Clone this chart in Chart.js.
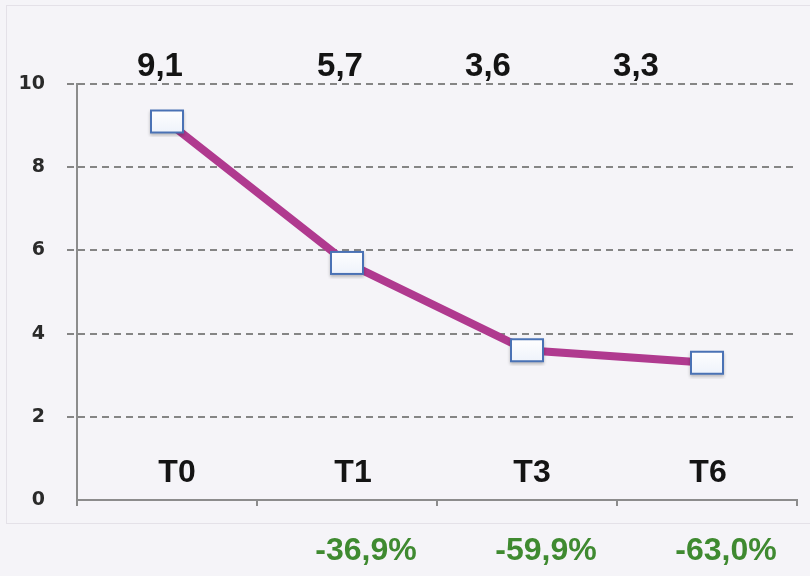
<!DOCTYPE html>
<html>
<head>
<meta charset="utf-8">
<script src="https://cdn.jsdelivr.net/npm/chart.js@4.4.1/dist/chart.umd.min.js"></script>
<style>
  body { margin: 0; background: #f5f4f8; }
  canvas { display: block; }
</style>
</head>
<body>
<canvas id="grafico" width="810" height="576"></canvas>
<script>
const categorias = ['T0', 'T1', 'T3', 'T6'];
const valores = [9.1, 5.7, 3.6, 3.3];
const rotulosValores = ['9,1', '5,7', '3,6', '3,3'];
const variacoes = ['', '-36,9%', '-59,9%', '-63,0%'];

// marcador retangular (branco com borda azul)
function criarMarcador() {
    const c = document.createElement('canvas');
    c.width = 40; c.height = 32;
    const g = c.getContext('2d');
    g.shadowColor = 'rgba(0,0,0,0.25)';
    g.shadowBlur = 3;
    g.shadowOffsetY = 2;
    g.fillStyle = '#ffffff';
    g.fillRect(3, 4, 34, 24);
    g.shadowColor = 'transparent';
    const grad = g.createLinearGradient(0, 4, 0, 28);
    grad.addColorStop(0, '#ffffff');
    grad.addColorStop(1, '#eef3fb');
    g.fillStyle = grad;
    g.fillRect(3, 4, 34, 24);
    g.strokeStyle = '#4a72b5';
    g.lineWidth = 2;
    g.strokeRect(4, 5, 32, 22);
    return c;
}
const marcador = criarMarcador();

const textos = {
    id: 'textos',
    beforeDraw(chart) {
        const ctx = chart.ctx;
        ctx.save();
        ctx.fillStyle = '#f5f4f8';
        ctx.fillRect(0, 0, chart.width, chart.height);
        ctx.strokeStyle = '#e4e1e8';
        ctx.lineWidth = 1;
        ctx.strokeRect(6.5, 5.5, 820, 518);
        ctx.restore();
    },
    afterDatasetsDraw(chart) {
        const ctx = chart.ctx;
        const x = chart.scales.x;
        // no original os rótulos do topo não ficam centrados nas categorias
        const desvioTopo = [-7, -7, -39, -71];
        const desvioCat = [10, 6, 5, 1];
        ctx.save();
        ctx.textAlign = 'center';
        ctx.textBaseline = 'middle';
        for (let i = 0; i < categorias.length; i++) {
            const px = x.getPixelForValue(i);
            ctx.font = 'bold 33px "Liberation Sans", Arial, sans-serif';
            ctx.fillStyle = '#141414';
            ctx.fillText(rotulosValores[i], px + desvioTopo[i], 67);
            ctx.font = 'bold 32px "Liberation Sans", Arial, sans-serif';
            ctx.fillText(categorias[i], px + desvioCat[i], 473);
            if (variacoes[i]) {
                ctx.fillStyle = '#3f8a30';
                ctx.fillText(variacoes[i], px + 19, 551);
            }
        }
        ctx.restore();
    }
};

new Chart(document.getElementById('grafico'), {
    type: 'line',
    data: {
        labels: categorias,
        datasets: [{
            data: valores,
            borderColor: '#b03a8f',
            borderWidth: 8,
            tension: 0,
            pointStyle: marcador,
            pointRadius: 16,
            pointHoverRadius: 16
        }]
    },
    options: {
        responsive: false,
        animation: false,
        layout: { autoPadding: false, padding: { top: 84, bottom: 70, right: 13, left: 0 } },
        plugins: {
            legend: { display: false },
            tooltip: { enabled: false }
        },
        scales: {
            x: {
                offset: true,
                afterFit: s => { s.height = 6; s.paddingRight = 0; s.paddingLeft = 0; },
                grid: { offset: true, drawOnChartArea: false, tickLength: 6, color: '#8c8c8c', lineWidth: 2 },
                border: { color: '#8c8c8c', width: 2 },
                ticks: { display: false }
            },
            y: {
                min: 0,
                max: 10,
                afterFit: s => { s.width = 77; },
                ticks: {
                    stepSize: 2,
                    padding: 22,
                    color: '#2a2a2a',
                    font: { family: '"DejaVu Sans", sans-serif', size: 19, weight: 'bold' }
                },
                grid: {
                    color: c => c.tick.value === 0 ? 'rgba(0,0,0,0)' : '#858585',
                    lineWidth: 2,
                    tickLength: 10,
                    tickBorderDash: [7, 5]
                },
                border: { color: '#8c8c8c', width: 2, dash: [7, 5] }
            }
        }
    },
    plugins: [textos]
});
</script>
</body>
</html>
